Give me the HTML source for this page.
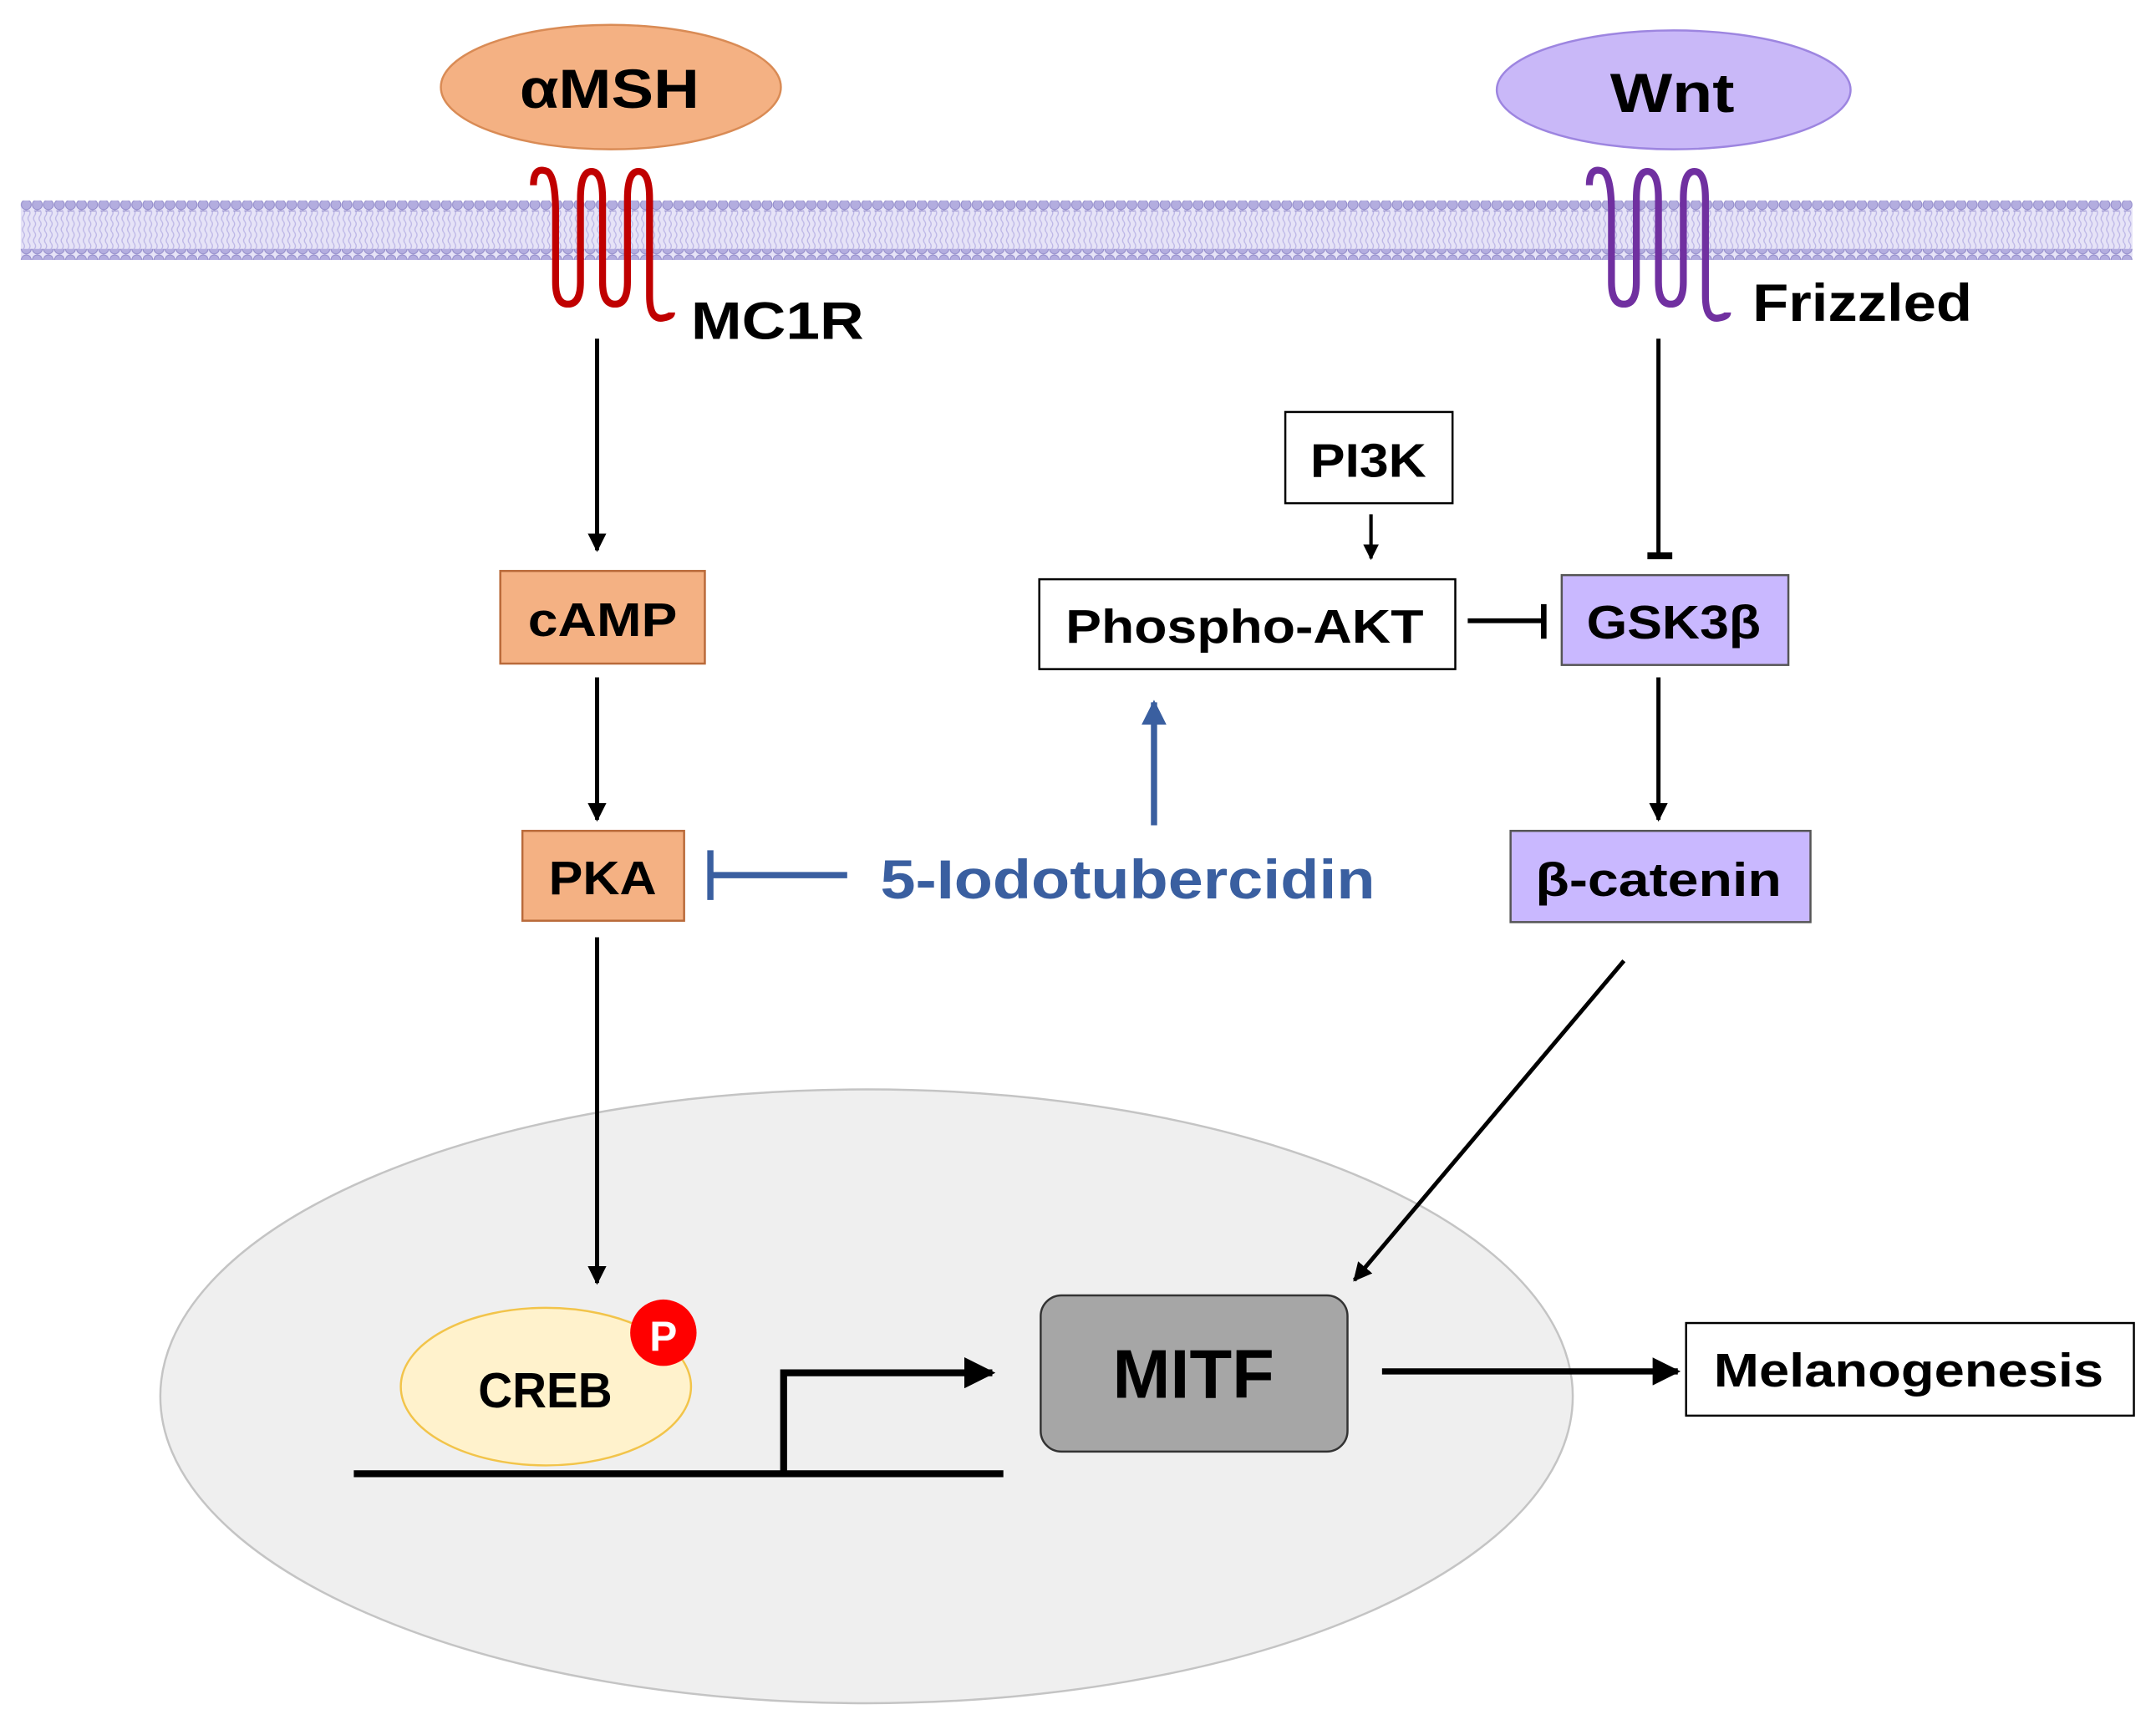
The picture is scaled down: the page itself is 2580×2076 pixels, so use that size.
<!DOCTYPE html>
<html><head><meta charset="utf-8"><style>html,body{margin:0;padding:0;background:#fff}svg{display:block}</style></head>
<body>
<svg width="2580" height="2076" viewBox="0 0 1560 1255" preserveAspectRatio="none" xmlns="http://www.w3.org/2000/svg" font-family="Liberation Sans, sans-serif" font-weight="bold">
<defs>
<marker id="ah" viewBox="0 0 10 10" refX="9" refY="5" markerWidth="4.5" markerHeight="4.5" orient="auto"><path d="M0,0 L10,5 L0,10 z" fill="#000"/></marker>
<marker id="ahb" viewBox="0 0 10 10" refX="9" refY="5" markerWidth="4" markerHeight="4" orient="auto"><path d="M0,0 L10,5 L0,10 z" fill="#3a5fa0"/></marker>
<pattern id="heads" x="15" y="0" width="8" height="8" patternUnits="userSpaceOnUse"><circle cx="4" cy="4" r="3.6" fill="#b3addf" stroke="#8f88c8" stroke-width="0.6"/></pattern>
<pattern id="tails" x="15" y="0" width="4" height="8" patternUnits="userSpaceOnUse"><path d="M2,0 q1.5,2 0,4 q-1.5,2 0,4" fill="none" stroke="#bcb6e6" stroke-width="0.8"/></pattern>
</defs>
<rect x="15" y="148" width="1528" height="38" fill="#e6e3f7"/>
<rect x="15" y="152" width="1528" height="30" fill="url(#tails)"/>
<rect x="15" y="145" width="1528" height="8" fill="url(#heads)"/>
<rect x="15" y="180" width="1528" height="8" fill="url(#heads)"/>
<ellipse cx="442" cy="63" rx="123" ry="45" fill="#f4b183" stroke="#d98b55" stroke-width="1.5"/>
<text x="376" y="78" font-size="40" textLength="130" lengthAdjust="spacingAndGlyphs">αMSH</text>
<ellipse cx="1211" cy="65" rx="128" ry="43" fill="#c9b8f8" stroke="#9d85e0" stroke-width="1.5"/>
<text x="1165" y="81" font-size="40" textLength="90" lengthAdjust="spacingAndGlyphs">Wnt</text>
<path d="M386,134 q0,-14 10,-10 q6,4 6,30 v50 q0,16 9,16 q9,0 9,-16 v-60 q0,-20 8,-20 q8,0 8,20 v60 q0,16 9,16 q9,0 9,-16 v-60 q0,-20 8,-20 q8,0 8,20 v70 q0,18 10,16 q6,-1 6,-4" fill="none" stroke="#c00000" stroke-width="5"/>
<text x="500" y="245" font-size="38" textLength="125" lengthAdjust="spacingAndGlyphs">MC1R</text>
<path d="M1150,134 q0,-14 10,-10 q6,4 6,30 v50 q0,16 9,16 q9,0 9,-16 v-60 q0,-20 8,-20 q8,0 8,20 v60 q0,16 9,16 q9,0 9,-16 v-60 q0,-20 8,-20 q8,0 8,20 v70 q0,18 10,16 q6,-1 6,-4" fill="none" stroke="#7030a0" stroke-width="5"/>
<text x="1268" y="232" font-size="38" textLength="159" lengthAdjust="spacingAndGlyphs">Frizzled</text>
<ellipse cx="627" cy="1010" rx="511" ry="222" fill="#efefef" stroke="#c4c4c4" stroke-width="1.5"/>
<line x1="432" y1="245" x2="432" y2="398" stroke="#000" stroke-width="3" marker-end="url(#ah)"/>
<rect x="362" y="413" width="148" height="67" fill="#f4b183" stroke="#b96a3a" stroke-width="1.5"/>
<text x="382" y="460" font-size="34" textLength="108" lengthAdjust="spacingAndGlyphs">cAMP</text>
<line x1="432" y1="490" x2="432" y2="593" stroke="#000" stroke-width="3" marker-end="url(#ah)"/>
<rect x="378" y="601" width="117" height="65" fill="#f4b183" stroke="#b96a3a" stroke-width="1.5"/>
<text x="397" y="647" font-size="34" textLength="78" lengthAdjust="spacingAndGlyphs">PKA</text>
<line x1="432" y1="678" x2="432" y2="928" stroke="#000" stroke-width="3" marker-end="url(#ah)"/>
<line x1="1200" y1="245" x2="1200" y2="402" stroke="#000" stroke-width="3"/>
<line x1="1192" y1="402" x2="1210" y2="402" stroke="#000" stroke-width="5"/>
<rect x="1130" y="416" width="164" height="65" fill="#c9b8ff" stroke="#555" stroke-width="1.5"/>
<text x="1148" y="462" font-size="34" textLength="126" lengthAdjust="spacingAndGlyphs">GSK3β</text>
<line x1="1200" y1="490" x2="1200" y2="593" stroke="#000" stroke-width="3" marker-end="url(#ah)"/>
<rect x="1093" y="601" width="217" height="66" fill="#c9b8ff" stroke="#555" stroke-width="1.5"/>
<text x="1111" y="648" font-size="34" textLength="178" lengthAdjust="spacingAndGlyphs">β-catenin</text>
<line x1="1175" y1="695" x2="980" y2="926" stroke="#000" stroke-width="3" marker-end="url(#ah)"/>
<rect x="930" y="298" width="121" height="66" fill="#fff" stroke="#000" stroke-width="1.5"/>
<text x="948" y="345" font-size="34" textLength="84" lengthAdjust="spacingAndGlyphs">PI3K</text>
<line x1="992" y1="372" x2="992" y2="404" stroke="#000" stroke-width="2.5" marker-end="url(#ah)"/>
<rect x="752" y="419" width="301" height="65" fill="#fff" stroke="#000" stroke-width="1.5"/>
<text x="771" y="465" font-size="34" textLength="259" lengthAdjust="spacingAndGlyphs">Phospho-AKT</text>
<line x1="1062" y1="449" x2="1117" y2="449" stroke="#000" stroke-width="3.5"/>
<line x1="1117" y1="437" x2="1117" y2="462" stroke="#000" stroke-width="4"/>
<line x1="835" y1="597" x2="835" y2="508" stroke="#3a5fa0" stroke-width="4.5" marker-end="url(#ahb)"/>
<text x="637" y="650" font-size="40" fill="#3a5fa0" textLength="358" lengthAdjust="spacingAndGlyphs">5-Iodotubercidin</text>
<line x1="613" y1="633" x2="514" y2="633" stroke="#3a5fa0" stroke-width="4.5"/>
<line x1="514" y1="615" x2="514" y2="651" stroke="#3a5fa0" stroke-width="4.5"/>
<ellipse cx="395" cy="1003" rx="105" ry="57" fill="#fff2cc" stroke="#f2c44a" stroke-width="1.5"/>
<text x="346" y="1018" font-size="36" textLength="97" lengthAdjust="spacingAndGlyphs">CREB</text>
<circle cx="480" cy="964" r="24" fill="#ff0000"/>
<text x="480" y="977" font-size="30" fill="#fff" text-anchor="middle">P</text>
<line x1="256" y1="1066" x2="726" y2="1066" stroke="#000" stroke-width="5"/>
<polyline points="567,1066 567,993 718,993" fill="none" stroke="#000" stroke-width="5" marker-end="url(#ah)"/>
<rect x="753" y="937" width="222" height="113" rx="15" fill="#a6a6a6" stroke="#333" stroke-width="1.5"/>
<text x="805" y="1011" font-size="50" textLength="117" lengthAdjust="spacingAndGlyphs">MITF</text>
<line x1="1000" y1="992" x2="1214" y2="992" stroke="#000" stroke-width="4.5" marker-end="url(#ah)"/>
<rect x="1220" y="957" width="324" height="67" fill="#fff" stroke="#000" stroke-width="1.5"/>
<text x="1240" y="1003" font-size="34" textLength="282" lengthAdjust="spacingAndGlyphs">Melanogenesis</text>
</svg>
</body></html>
